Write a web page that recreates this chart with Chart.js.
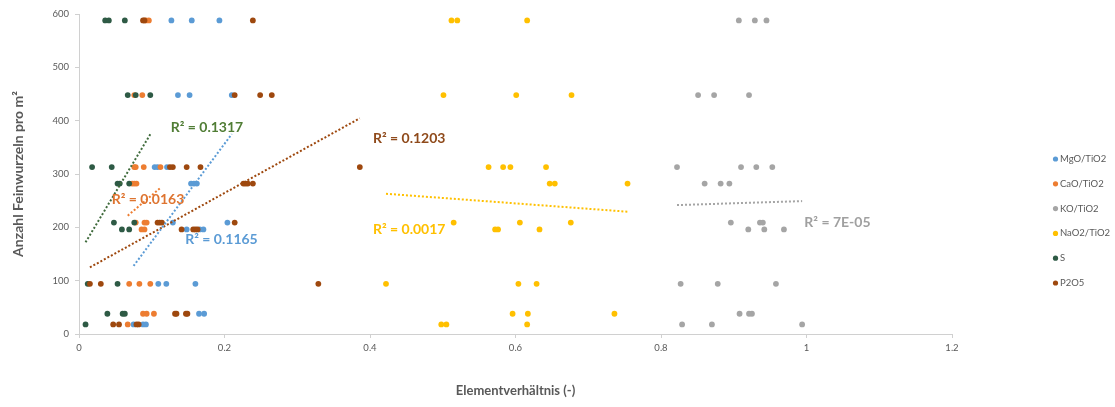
<!DOCTYPE html>
<html>
<head>
<meta charset="utf-8">
<script src="https://cdn.jsdelivr.net/npm/chart.js@4.4.1/dist/chart.umd.min.js"></script>
<style>
    html, body { margin: 0; padding: 0; background: #fff; }
    #wrap { width: 1115px; height: 407px; }
</style>
</head>
<body>
<div id="wrap"><canvas id="chartRatio" width="1115" height="407"></canvas></div>
<script>
/* ------------------------------------------------------------
   Дані: Anzahl Feinwurzeln pro m² vs. Elementverhältnis
------------------------------------------------------------ */

const seriesNames = ["MgO/TiO2", "CaO/TiO2", "KO/TiO2", "NaO2/TiO2", "S", "P2O5"];

// MgO/TiO2
const mgoX = [0.127, 0.155, 0.193, 0.136, 0.152, 0.210, 0.104, 0.108, 0.121, 0.154, 0.158, 0.162,
              0.129, 0.204, 0.148, 0.166, 0.171, 0.109, 0.120, 0.160, 0.165, 0.172, 0.075, 0.088, 0.092];
const mgoY = [588, 588, 588, 448, 448, 448, 313, 313, 313, 282, 282, 282,
              209, 209, 196, 196, 196, 94, 94, 94, 38, 38, 18, 18, 18];

// CaO/TiO2
const caoX = [0.092, 0.096, 0.076, 0.087, 0.076, 0.078, 0.089, 0.112, 0.073, 0.076, 0.079,
              0.078, 0.090, 0.093, 0.086, 0.090, 0.069, 0.083, 0.098, 0.088, 0.093, 0.103, 0.067];
const caoY = [588, 588, 448, 448, 313, 313, 313, 313, 282, 282, 282,
              209, 209, 209, 196, 196, 94, 94, 94, 38, 38, 38, 18];

// KO/TiO2
const koX = [0.907, 0.929, 0.945, 0.851, 0.873, 0.921, 0.822, 0.910, 0.931, 0.953, 0.860, 0.882, 0.894,
             0.896, 0.936, 0.940, 0.920, 0.942, 0.969, 0.827, 0.878, 0.958, 0.908, 0.921, 0.925,
             0.829, 0.870, 0.994];
const koY = [588, 588, 588, 448, 448, 448, 313, 313, 313, 313, 282, 282, 282,
             209, 209, 209, 196, 196, 196, 94, 94, 94, 38, 38, 38, 18, 18, 18];

// NaO2/TiO2
const naoX = [0.512, 0.520, 0.616, 0.501, 0.601, 0.677, 0.563, 0.583, 0.593, 0.642, 0.647, 0.654, 0.754,
              0.515, 0.606, 0.676, 0.572, 0.576, 0.633, 0.422, 0.604, 0.629, 0.596, 0.617, 0.736,
              0.498, 0.505, 0.616];
const naoY = [588, 588, 588, 448, 448, 448, 313, 313, 313, 313, 282, 282, 282,
              209, 209, 209, 196, 196, 196, 94, 94, 94, 38, 38, 38, 18, 18, 18];

// S
const sX = [0.036, 0.041, 0.063, 0.067, 0.078, 0.098, 0.018, 0.045, 0.053, 0.056, 0.069,
            0.048, 0.076, 0.059, 0.069, 0.012, 0.053, 0.039, 0.060, 0.063, 0.009];
const sY = [588, 588, 588, 448, 448, 448, 313, 313, 282, 282, 282,
            209, 209, 196, 196, 94, 94, 38, 38, 38, 18];

// P2O5
const pX = [0.088, 0.090, 0.239, 0.214, 0.249, 0.265, 0.125, 0.129, 0.148, 0.167, 0.386,
            0.226, 0.229, 0.232, 0.239, 0.108, 0.111, 0.114, 0.214, 0.141, 0.157, 0.160, 0.163,
            0.015, 0.030, 0.329, 0.132, 0.134, 0.147, 0.149, 0.047, 0.055, 0.079, 0.082];
const pY = [588, 588, 588, 448, 448, 448, 313, 313, 313, 313, 313,
            282, 282, 282, 282, 209, 209, 209, 209, 196, 196, 196, 196,
            94, 94, 94, 38, 38, 38, 38, 18, 18, 18, 18];

// R² aus der Trendlinie (wie im Bild)
const r2Texts = ["R² = 0.1165", "R² = 0.0163", "R² = 7E-05", "R² = 0.0017", "R² = 0.1317", "R² = 0.1203"];

const xTicks = [0, 0.2, 0.4, 0.6, 0.8, 1, 1.2];
const yTicks = [0, 100, 200, 300, 400, 500, 600];

/* ------------------------------------------------------------
   Стилі серій
------------------------------------------------------------ */

const colors      = ["#5b9bd5", "#ed7d31", "#a5a5a5", "#ffc000", "#2e5a45", "#9e480e"];
const trendColors = ["#5b9bd5", "#ed7d31", "#a5a5a5", "#ffc000", "#3f6b3c", "#9e480e"];
const labelColors = ["#5b9bd5", "#de7430", "#a0a0a0", "#ffc000", "#507d35", "#8f4a1b"];

// позиції підписів R² (в одиницях осей, лівий край тексту)
const labelPos = [
    { x: 0.146, y: 178 },
    { x: 0.045, y: 253 },
    { x: 0.997, y: 209 },
    { x: 0.404, y: 196 },
    { x: 0.126, y: 388 },
    { x: 0.404, y: 367 }
];

const xs = [mgoX, caoX, koX, naoX, sX, pX];
const ys = [mgoY, caoY, koY, naoY, sY, pY];

/* ------------------------------------------------------------
   Лінійна регресія (trendline)
------------------------------------------------------------ */

function linTrend(x, y) {
    const n = x.length;
    const mx = x.reduce((a, b) => a + b, 0) / n;
    const my = y.reduce((a, b) => a + b, 0) / n;
    let sxy = 0, sxx = 0;
    for (let i = 0; i < n; i++) {
        sxy += (x[i] - mx) * (y[i] - my);
        sxx += (x[i] - mx) * (x[i] - mx);
    }
    const k = sxy / sxx;
    const b = my - k * mx;
    const x0 = Math.min(...x), x1 = Math.max(...x);
    return [{ x: x0, y: k * x0 + b }, { x: x1, y: k * x1 + b }];
}

const datasets = [];

seriesNames.forEach((name, i) => {
    datasets.push({
        type: "scatter",
        label: name,
        data: xs[i].map((v, j) => ({ x: v, y: ys[i][j] })),
        backgroundColor: colors[i],
        borderColor: colors[i],
        pointRadius: 2.9,
        pointBorderWidth: 0,
        order: 10 - i
    });
});

seriesNames.forEach((name, i) => {
    datasets.push({
        type: "line",
        label: "trend " + name,
        data: linTrend(xs[i], ys[i]),
        borderColor: trendColors[i],
        borderWidth: 2,
        borderDash: [2, 2],
        pointRadius: 0,
        fill: false,
        order: 0
    });
});

/* ------------------------------------------------------------
   Плагіни: підписи R² та легенда справа
------------------------------------------------------------ */

const r2Plugin = {
    id: "r2Labels",
    afterDatasetsDraw(chart) {
        const c = chart.ctx;
        const sx = chart.scales.x, sy = chart.scales.y;
        c.save();
        c.font = "bold 14px Lato";
        c.textAlign = "left";
        c.textBaseline = "middle";
        r2Texts.forEach((t, i) => {
            c.fillStyle = labelColors[i];
            c.fillText(t, sx.getPixelForValue(labelPos[i].x), sy.getPixelForValue(labelPos[i].y));
        });
        c.restore();
    }
};

const legendPlugin = {
    id: "sideLegend",
    afterDraw(chart) {
        const c = chart.ctx;
        c.save();
        c.font = "9.5px Lato";
        c.textAlign = "left";
        c.textBaseline = "middle";
        seriesNames.forEach((name, i) => {
            const y = 159 + i * 24.8;
            c.fillStyle = colors[i];
            c.beginPath();
            c.arc(1055.5, y, 2.6, 0, Math.PI * 2);
            c.fill();
            c.fillStyle = "#595959";
            c.fillText(name, 1060, y);
        });
        c.restore();
    }
};

/* ------------------------------------------------------------
   Графік
------------------------------------------------------------ */

const tickFont = { family: "Lato", size: 9.5 };

new Chart(document.getElementById("chartRatio"), {
    type: "scatter",
    data: { datasets },
    options: {
        responsive: false,
        animation: false,
        layout: { padding: { left: 0, right: 163, top: 14, bottom: 0 } },
        scales: {
            x: {
                type: "linear",
                min: xTicks[0],
                max: xTicks[xTicks.length - 1],
                afterBuildTicks: s => { s.ticks = xTicks.map(v => ({ value: v })); },
                afterFit: s => { s.height = 73; },
                ticks: {
                    color: "#595959",
                    font: tickFont,
                    padding: 4,
                    maxRotation: 0,
                    callback: v => String(Math.round(v * 10) / 10)
                },
                grid: { drawOnChartArea: false, color: "#d0d0d0", tickLength: 4 },
                border: { color: "#d0d0d0" },
                title: {
                    display: true,
                    text: "Elementverhältnis (-)",
                    color: "#595959",
                    font: { family: "Lato", size: 13, weight: "bold" },
                    padding: { top: 0, bottom: 8 }
                }
            },
            y: {
                type: "linear",
                min: yTicks[0],
                max: yTicks[yTicks.length - 1],
                afterBuildTicks: s => { s.ticks = yTicks.map(v => ({ value: v })); },
                afterFit: s => { s.width = 79; },
                ticks: { color: "#595959", font: tickFont, padding: 6 },
                grid: { drawOnChartArea: false, color: "#d0d0d0", tickLength: 4 },
                border: { color: "#d0d0d0" },
                title: {
                    display: true,
                    text: "Anzahl Feinwurzeln pro m²",
                    color: "#595959",
                    font: { family: "Lato", size: 14, weight: "bold" },
                    padding: { top: 10, bottom: 0 }
                }
            }
        },
        plugins: {
            legend: { display: false },
            tooltip: { enabled: false }
        }
    },
    plugins: [r2Plugin, legendPlugin]
});
</script>
</body>
</html>
